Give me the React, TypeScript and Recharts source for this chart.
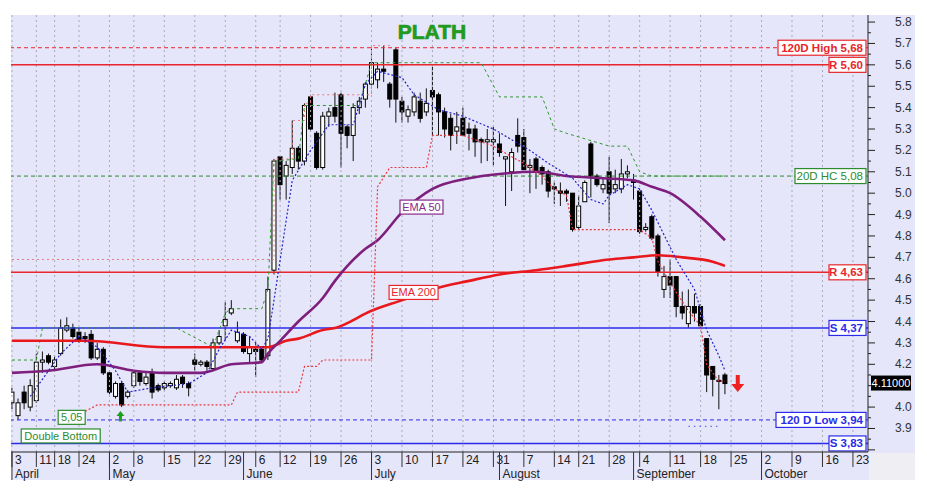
import {
  Bar,
  ComposedChart,
  Line,
  ReferenceDot,
  ReferenceLine,
  XAxis,
  YAxis,
} from "recharts";

const FONT = "'Liberation Sans', Arial, Helvetica, sans-serif";
const RED = "#e8262b";
const BLUE = "#2b2bea";
const GREEN = "#2c8c2c";
const PURPLE = "#7e1f7e";

// trading days, index 0 = 3 April
const open = [
  4.02, 3.96, 4.07, 4.0, 4.03, 4.21, 4.24, 4.19, 4.25, 4.36,
  4.37, 4.35, 4.33, 4.34, 4.23, 4.27, 4.16, 4.05, 4.11, 4.05,
  4.1, 4.16, 4.11, 4.16, 4.1, 4.09, 4.1, 4.09, 4.14, 4.11,
  4.22, 4.2, 4.21, 4.18, 4.3, 4.38, 4.44, 4.31, 4.34, 4.25,
  4.27, 4.27, 4.24, 4.64, 5.17, 5.08, 5.12, 5.21, 5.15, 5.45,
  5.28, 5.12, 5.36, 5.4, 5.46, 5.31, 5.27, 5.4, 5.44, 5.51,
  5.53, 5.58, 5.51, 5.67, 5.43, 5.36, 5.38, 5.43, 5.38, 5.48,
  5.46, 5.38, 5.35, 5.29, 5.35, 5.3, 5.3, 5.25, 5.24, 5.24,
  5.23, 5.16, 5.1, 5.27, 5.26, 5.12, 5.16, 5.12, 5.1, 5.03,
  5.01, 5.01, 5.0, 4.84, 4.96, 5.23, 5.08, 5.02, 5.1, 5.02,
  5.02, 5.09, 5.06, 5.01, 4.83, 4.89, 4.8, 4.55, 4.61, 4.61,
  4.47, 4.39, 4.47, 4.47, 4.32, 4.19, 4.12, 4.15,
];
const high = [
  4.09, 4.04, 4.1, 4.13, 4.25, 4.26, 4.25, 4.24, 4.41, 4.42,
  4.39, 4.37, 4.35, 4.36, 4.3, 4.28, 4.17, 4.12, 4.12, 4.08,
  4.17, 4.17, 4.16, 4.18, 4.11, 4.12, 4.12, 4.15, 4.15, 4.12,
  4.25, 4.22, 4.22, 4.32, 4.36, 4.49, 4.5, 4.4, 4.35, 4.33,
  4.3, 4.28, 4.61, 5.16, 5.17, 5.15, 5.34, 5.22, 5.42, 5.46,
  5.29, 5.38, 5.4, 5.47, 5.47, 5.32, 5.42, 5.45, 5.52, 5.69,
  5.61, 5.69, 5.52, 5.68, 5.45, 5.41, 5.47, 5.47, 5.49, 5.59,
  5.47, 5.4, 5.37, 5.38, 5.4, 5.33, 5.32, 5.26, 5.3, 5.31,
  5.28, 5.17, 5.21, 5.35, 5.3, 5.16, 5.17, 5.13, 5.11, 5.05,
  5.05, 5.02, 5.0, 4.99, 5.06, 5.24, 5.09, 5.07, 5.17, 5.11,
  5.16, 5.13, 5.09, 5.02, 4.86, 4.9, 4.81, 4.66, 4.69, 4.61,
  4.54, 4.55, 4.53, 4.48, 4.32, 4.19, 4.15, 4.16,
];
const low = [
  3.99, 3.94, 3.99, 3.98, 4.02, 4.16, 4.2, 4.17, 4.24, 4.35,
  4.32, 4.3, 4.3, 4.22, 4.22, 4.15, 4.06, 4.04, 4.0, 4.04,
  4.09, 4.1, 4.1, 4.04, 4.07, 4.08, 4.09, 4.08, 4.09, 4.05,
  4.17, 4.19, 4.17, 4.17, 4.29, 4.31, 4.43, 4.3, 4.25, 4.21,
  4.14, 4.21, 4.22, 4.62, 4.97, 4.97, 5.09, 5.11, 5.13, 5.29,
  5.11, 5.11, 5.31, 5.33, 5.12, 5.21, 5.15, 5.37, 5.4, 5.49,
  5.49, 5.52, 5.4, 5.33, 5.33, 5.33, 5.36, 5.33, 5.36, 5.27,
  5.27, 5.26, 5.2, 5.23, 5.27, 5.2, 5.17, 5.14, 5.15, 5.13,
  5.17, 4.94, 5.01, 5.19, 5.11, 5.0, 5.02, 5.04, 4.98, 4.95,
  4.94, 4.96, 4.82, 4.83, 4.96, 4.98, 5.03, 5.0, 4.86, 5.0,
  5.0, 5.07, 4.97, 4.81, 4.82, 4.78, 4.61, 4.51, 4.51, 4.42,
  4.41, 4.37, 4.4, 4.37, 4.07, 4.05, 3.99, 4.06,
];
const close = [
  4.07, 4.02, 4.02, 4.1, 4.21, 4.22, 4.21, 4.22, 4.37, 4.38,
  4.33, 4.31, 4.32, 4.23, 4.27, 4.16, 4.07, 4.11, 4.01, 4.07,
  4.16, 4.12, 4.14, 4.07, 4.08, 4.11, 4.11, 4.13, 4.11, 4.09,
  4.2, 4.21, 4.19, 4.3, 4.33, 4.41, 4.46, 4.35, 4.26, 4.28,
  4.26, 4.22, 4.55, 5.15, 5.04, 5.13, 5.21, 5.15, 5.41, 5.3,
  5.12, 5.36, 5.38, 5.36, 5.28, 5.27, 5.4, 5.43, 5.51, 5.61,
  5.58, 5.57, 5.44, 5.44, 5.38, 5.39, 5.45, 5.35, 5.42, 5.45,
  5.38, 5.3, 5.27, 5.31, 5.27, 5.28, 5.24, 5.24, 5.25, 5.25,
  5.19, 5.17, 5.19, 5.22, 5.11, 5.13, 5.1, 5.09, 5.01, 5.02,
  5.0, 5.0, 4.83, 4.94, 5.05, 5.08, 5.04, 5.04, 5.0, 5.04,
  5.09, 5.1, 5.05, 4.82, 4.84, 4.79, 4.63, 4.61, 4.57, 4.47,
  4.44, 4.47, 4.44, 4.38, 4.15, 4.13, 4.125, 4.11,
];

// indicators as [day index, value]
const ema50 = [
  [0, 4.16], [6, 4.17], [14, 4.2], [20, 4.17], [25, 4.16], [31, 4.16], [36, 4.2],
  [41, 4.21], [42, 4.25], [44, 4.31], [47, 4.4], [51, 4.51], [53, 4.59], [58, 4.74],
  [60, 4.78], [64, 4.91], [69, 5.02], [75, 5.07], [80, 5.09], [86, 5.1], [91, 5.08],
  [97, 5.07], [102, 5.06], [105, 5.03], [108, 5.0], [113, 4.89], [117, 4.78],
];
const ema200 = [
  [0, 4.31], [12, 4.31], [25, 4.28], [36, 4.28], [42, 4.28], [45, 4.31], [47, 4.32],
  [51, 4.36], [53, 4.37], [59, 4.45], [64, 4.5], [69, 4.55], [75, 4.59], [80, 4.62],
  [86, 4.64], [91, 4.66], [98, 4.69], [102, 4.7], [106, 4.71], [110, 4.7], [115, 4.68],
  [117, 4.66],
];
const fastMa = [
  [3, 4.05], [8, 4.25], [11, 4.33], [14, 4.28], [17, 4.17], [19, 4.07], [23, 4.09],
  [29, 4.11], [32, 4.16], [34, 4.27], [36, 4.36], [39, 4.33], [41, 4.27], [42, 4.32],
  [43, 4.5], [46, 5.06], [49, 5.2], [52, 5.32], [56, 5.32], [58, 5.51], [60, 5.57],
  [64, 5.54], [66, 5.46], [70, 5.39], [74, 5.36], [79, 5.3], [82, 5.25], [85, 5.2],
  [88, 5.14], [92, 5.07], [95, 4.97], [97, 4.95], [98, 4.99], [101, 5.04], [103, 5.02],
  [105, 4.92], [109, 4.69], [112, 4.55], [114, 4.36], [116, 4.24], [117, 4.17],
];
const lowStop = [
  [12, 3.98], [14, 4.01], [36, 4.01], [37, 4.07], [47, 4.07], [48, 4.19], [50, 4.19],
  [51, 4.22], [59, 4.22], [60, 5.03], [62, 5.12], [68, 5.12], [69, 5.27], [74, 5.27],
  [76, 5.25], [79, 5.22], [82, 5.17], [84, 5.14], [87, 5.08], [89, 5.02], [91, 4.99],
  [92, 4.83], [103, 4.83], [105, 4.79], [106, 4.68], [108, 4.58], [111, 4.45],
  [113, 4.38], [114, 4.2], [116, 4.12], [117, 4.12],
];
const highStep = [[0, 4.69], [43, 5.16], [46, 5.34], [48, 5.42], [49, 5.46], [59, 5.69], [62, 5.69]];
const highClose = [
  [0, 4.22], [4, 4.22], [5, 4.37], [27, 4.37], [33, 4.28], [35, 4.44], [36, 4.46],
  [41, 4.46], [42, 4.55], [43, 5.15], [47, 5.16], [48, 5.41], [57, 5.41], [58, 5.51],
  [59, 5.61], [77, 5.61], [80, 5.45], [87, 5.45], [89, 5.3], [91, 5.28], [98, 5.22],
  [101, 5.22], [103, 5.1], [105, 5.08], [117, 5.08],
];
const lowBand = [[111, 3.91], [116, 3.91]];

const levelValue = [5.68, 5.6, 5.08, 4.63, 4.37, 3.94, 3.83];
const levelText = ["120D High 5,68", "R 5,60", "20D HC 5,08", "R 4,63", "S 4,37", "120 D Low 3,94", "S 3,83"];
const levelKind = ["high", "res", "hc", "res", "sup", "low", "sup"];
const lastPrice = 4.11;

const weekIdx = [0, 4, 7, 11, 16, 20, 25, 30, 35, 40, 44, 49, 54, 59, 64, 69, 74, 79, 84, 89, 93, 98, 103, 108, 113, 118, 123, 128, 133, 138];
const weekDay = ["3", "11", "18", "24", "2", "8", "15", "22", "29", "6", "12", "19", "26", "3", "10", "17", "24", "31", "7", "14", "21", "28", "4", "11", "18", "25", "2", "9", "16", "23"];
const monthIdx = [0, 16, 38, 59, 80, 102, 123];
const monthName = ["April", "May", "June", "July", "August", "September", "October"];
const yTicks = [
  3.8, 3.85, 3.9, 3.95, 4.0, 4.05, 4.1, 4.15, 4.2, 4.25, 4.3, 4.35, 4.4, 4.45, 4.5,
  4.55, 4.6, 4.65, 4.7, 4.75, 4.8, 4.85, 4.9, 4.95, 5.0, 5.05, 5.1, 5.15, 5.2, 5.25,
  5.3, 5.35, 5.4, 5.45, 5.5, 5.55, 5.6, 5.65, 5.7, 5.75, 5.8,
];

const xTicks = Array.from(new Set([...weekIdx, ...monthIdx])).sort((a, b) => a - b);

const rows: any[] = open.map((o, i) => ({ i, o, h: high[i], l: low[i], c: close[i] }));
function put(key: string, pts: number[][]) {
  pts.forEach(([i, v]) => {
    rows[i][key] = v;
  });
}
put("ema50", ema50);
put("ema200", ema200);
put("ma", fastMa);
put("lowStop", lowStop);
put("highStep", highStep);
put("highClose", highClose);
put("band", lowBand);

const LEVEL_STYLE: Record<string, { color: string; dash?: string; w: number; bold: boolean; sw: number }> = {
  high: { color: RED, dash: "4 3", w: 88, bold: true, sw: 1 },
  res: { color: RED, w: 37, bold: true, sw: 1.5 },
  hc: { color: GREEN, dash: "4 3", w: 71, bold: false, sw: 1 },
  sup: { color: BLUE, w: 37, bold: true, sw: 1.5 },
  low: { color: BLUE, dash: "4 3", w: 90, bold: true, sw: 1 },
};

function Candle(props: any) {
  const { x, y, width, height, payload } = props;
  if (x == null || !payload) return null;
  const top = Math.min(y, y + height);
  const bot = Math.max(y, y + height);
  const { o, h, l, c } = payload;
  const k = h > l ? (bot - top) / (h - l) : 0;
  const py = (v: number) => bot - (v - l) * k;
  const cx = x + width / 2;
  const yo = py(o);
  const yc = py(c);
  const up = c >= o;
  return (
    <g>
      <line x1={cx} x2={cx} y1={top} y2={bot} stroke="#111" strokeWidth={1} />
      <rect
        x={cx - 2}
        y={Math.min(yo, yc)}
        width={4}
        height={Math.max(Math.abs(yo - yc), 1)}
        fill={up ? "#fff" : "#000"}
        stroke="#000"
        strokeWidth={1}
      />
    </g>
  );
}

function DayTick({ x, y, payload }: any) {
  const w = weekIdx.indexOf(payload.value);
  const m = monthIdx.indexOf(payload.value);
  return (
    <g fontFamily={FONT} fontSize={12} fill="#222">
      {w >= 0 && <line x1={x} x2={x} y1={y} y2={y + 15} stroke="#333" />}
      {w >= 0 && (
        <text x={x + 3} y={y + 12} fill="#222">
          {weekDay[w]}
        </text>
      )}
      {m >= 0 && <line x1={x} x2={x} y1={y} y2={y + 28} stroke="#333" />}
      {m >= 0 && (
        <text x={x + 3} y={y + 26} fill="#222">
          {monthName[m]}
        </text>
      )}
    </g>
  );
}

function PriceTick({ x, y, payload }: any) {
  const v = payload.value;
  const major = Math.abs(v * 10 - Math.round(v * 10)) < 1e-6;
  const showLabel = major && v >= 3.9 && Math.abs(v - 4.1) > 1e-6;
  return (
    <g>
      <line x1={x} x2={x + (major ? 7 : 3)} y1={y} y2={y} stroke="#222" />
      {showLabel && (
        <text x={x + 27} y={y + 4} fontSize={12} fontFamily={FONT} fill="#333">
          {v.toFixed(1)}
        </text>
      )}
    </g>
  );
}

function LevelTag({ viewBox, text, kind }: any) {
  if (!viewBox) return null;
  const s = LEVEL_STYLE[kind];
  const right = viewBox.x + viewBox.width - 2;
  const y = viewBox.y;
  return (
    <g>
      <rect x={right - s.w} y={y - 7.5} width={s.w} height={15} fill="#fff" stroke={s.color} strokeWidth={1.2} />
      <text
        x={right - 3}
        y={y + 4}
        textAnchor="end"
        fontSize={11.5}
        fontFamily={FONT}
        fontWeight={s.bold ? 700 : 400}
        fill={s.color}
      >
        {text}
      </text>
    </g>
  );
}

function PriceTag({ viewBox }: any) {
  if (!viewBox) return null;
  const x0 = viewBox.x + viewBox.width + 3;
  return (
    <g>
      <rect x={x0} y={viewBox.y - 8} width={40} height={15} fill="#000" />
      <text x={x0 + 20} y={viewBox.y + 3.5} textAnchor="middle" fontSize={11} fontFamily={FONT} fill="#fff">
        {lastPrice.toFixed(5)}
      </text>
    </g>
  );
}

function BoxNote({ cx, cy, text, w, color }: any) {
  return (
    <g>
      <rect x={cx - w / 2} y={cy - 7} width={w} height={14} fill="#fdfdff" stroke={color} strokeWidth={1.2} />
      <text x={cx} y={cy + 4} textAnchor="middle" fontSize={11} fontFamily={FONT} fill={color}>
        {text}
      </text>
    </g>
  );
}

function UpArrow({ cx, cy }: any) {
  return (
    <g fill="#1ea01e">
      <polygon points={`${cx},${cy - 6} ${cx - 4},${cy - 1} ${cx + 4},${cy - 1}`} />
      <rect x={cx - 1.5} y={cy - 1.5} width={3} height={6} />
    </g>
  );
}

function DownArrow({ cx, cy }: any) {
  return (
    <g fill="#ee2020">
      <rect x={cx - 2} y={cy - 9} width={4} height={10} />
      <polygon points={`${cx - 6.5},${cy} ${cx + 6.5},${cy} ${cx},${cy + 8}`} />
    </g>
  );
}

const dotted = { dot: false, activeDot: false, isAnimationActive: false, connectNulls: true } as const;

export default function App() {
  return (
    <div style={{ position: "absolute", left: 0, top: 0, width: 927, height: 492, background: "#fff" }}>
      <div style={{ position: "absolute", left: 11, top: 15, width: 904, height: 465, background: "#e6e6fa" }} />
      <div style={{ position: "absolute", left: 869, top: 453, width: 46, height: 27, background: "#efeff3" }} />
      <div style={{ position: "absolute", left: 0, top: 0 }}>
        <ComposedChart width={927} height={492} data={rows} margin={{ top: 15, right: 0, left: 11, bottom: 0 }}>
          <XAxis
            dataKey="i"
            type="number"
            domain={[-0.16, 140.47]}
            allowDataOverflow
            ticks={xTicks}
            interval={0}
            tick={<DayTick />}
            tickLine={false}
            tickSize={0}
            tickMargin={0}
            axisLine={{ stroke: "#222" }}
            height={40}
          />
          <YAxis
            orientation="right"
            type="number"
            domain={[3.79, 5.833]}
            allowDataOverflow
            ticks={yTicks}
            interval={0}
            tick={<PriceTick />}
            tickLine={false}
            tickSize={0}
            tickMargin={0}
            axisLine={{ stroke: "#222" }}
            width={59}
          />
          {weekIdx.map((i) => (
            <ReferenceLine key={"g" + i} x={i} stroke="#a9a9b9" strokeDasharray="2 3" />
          ))}
          {levelValue.map((v, k) => {
            const s = LEVEL_STYLE[levelKind[k]];
            return (
              <ReferenceLine
                key={"lv" + k}
                y={v}
                stroke={s.color}
                strokeWidth={s.sw}
                strokeDasharray={s.dash}
                label={<LevelTag text={levelText[k]} kind={levelKind[k]} />}
              />
            );
          })}
          <ReferenceLine y={lastPrice} stroke="none" label={<PriceTag />} />
          <Line dataKey="highStep" type="stepAfter" stroke="#ea7a7a" strokeWidth={1} strokeDasharray="2 3" {...dotted} />
          <Line dataKey="highClose" type="linear" stroke="#2f962f" strokeWidth={1} strokeDasharray="3 3" {...dotted} />
          <Line dataKey="band" type="linear" stroke="#6a6af0" strokeWidth={1.2} strokeDasharray="1.5 4" {...dotted} />
          <Bar dataKey={(d: any) => [d.l, d.h]} barSize={4} shape={<Candle />} isAnimationActive={false} />
          <Line dataKey="ema200" type="monotone" stroke="#e8181d" strokeWidth={2.6} {...dotted} />
          <Line dataKey="ema50" type="monotone" stroke={PURPLE} strokeWidth={2.6} {...dotted} />
          <Line dataKey="lowStop" type="linear" stroke="#e8383a" strokeWidth={1.2} strokeDasharray="2 2" {...dotted} />
          <Line dataKey="ma" type="linear" stroke="#2424c8" strokeWidth={1.2} strokeDasharray="2 2" {...dotted} />
          <ReferenceDot x={67.2} y={4.935} r={0} ifOverflow="visible" shape={(p: any) => <BoxNote {...p} text="EMA 50" w={43} color="#8b2a8b" />} />
          <ReferenceDot x={65.9} y={4.536} r={0} ifOverflow="visible" shape={(p: any) => <BoxNote {...p} text="EMA 200" w={49} color={RED} />} />
          <ReferenceDot x={9.8} y={3.952} r={0} ifOverflow="visible" shape={(p: any) => <BoxNote {...p} text="5,05" w={27} color={GREEN} />} />
          <ReferenceDot x={8.0} y={3.865} r={0} ifOverflow="visible" shape={(p: any) => <BoxNote {...p} text="Double Bottom" w={79} color={GREEN} />} />
          <ReferenceDot x={17.8} y={3.954} r={0} ifOverflow="visible" shape={(p: any) => <UpArrow {...p} />} />
          <ReferenceDot x={119.1} y={4.108} r={0} ifOverflow="visible" shape={(p: any) => <DownArrow {...p} />} />
        </ComposedChart>
      </div>
      <svg width={927} height={492} style={{ position: "absolute", left: 0, top: 0, pointerEvents: "none" }}>
        <text
          x={432}
          y={39}
          textAnchor="middle"
          fontSize={21}
          fontWeight={700}
          fontFamily={FONT}
          fill="#229a22"
          stroke="#229a22"
          strokeWidth={0.7}
        >
          PLATH
        </text>
      </svg>
    </div>
  );
}
